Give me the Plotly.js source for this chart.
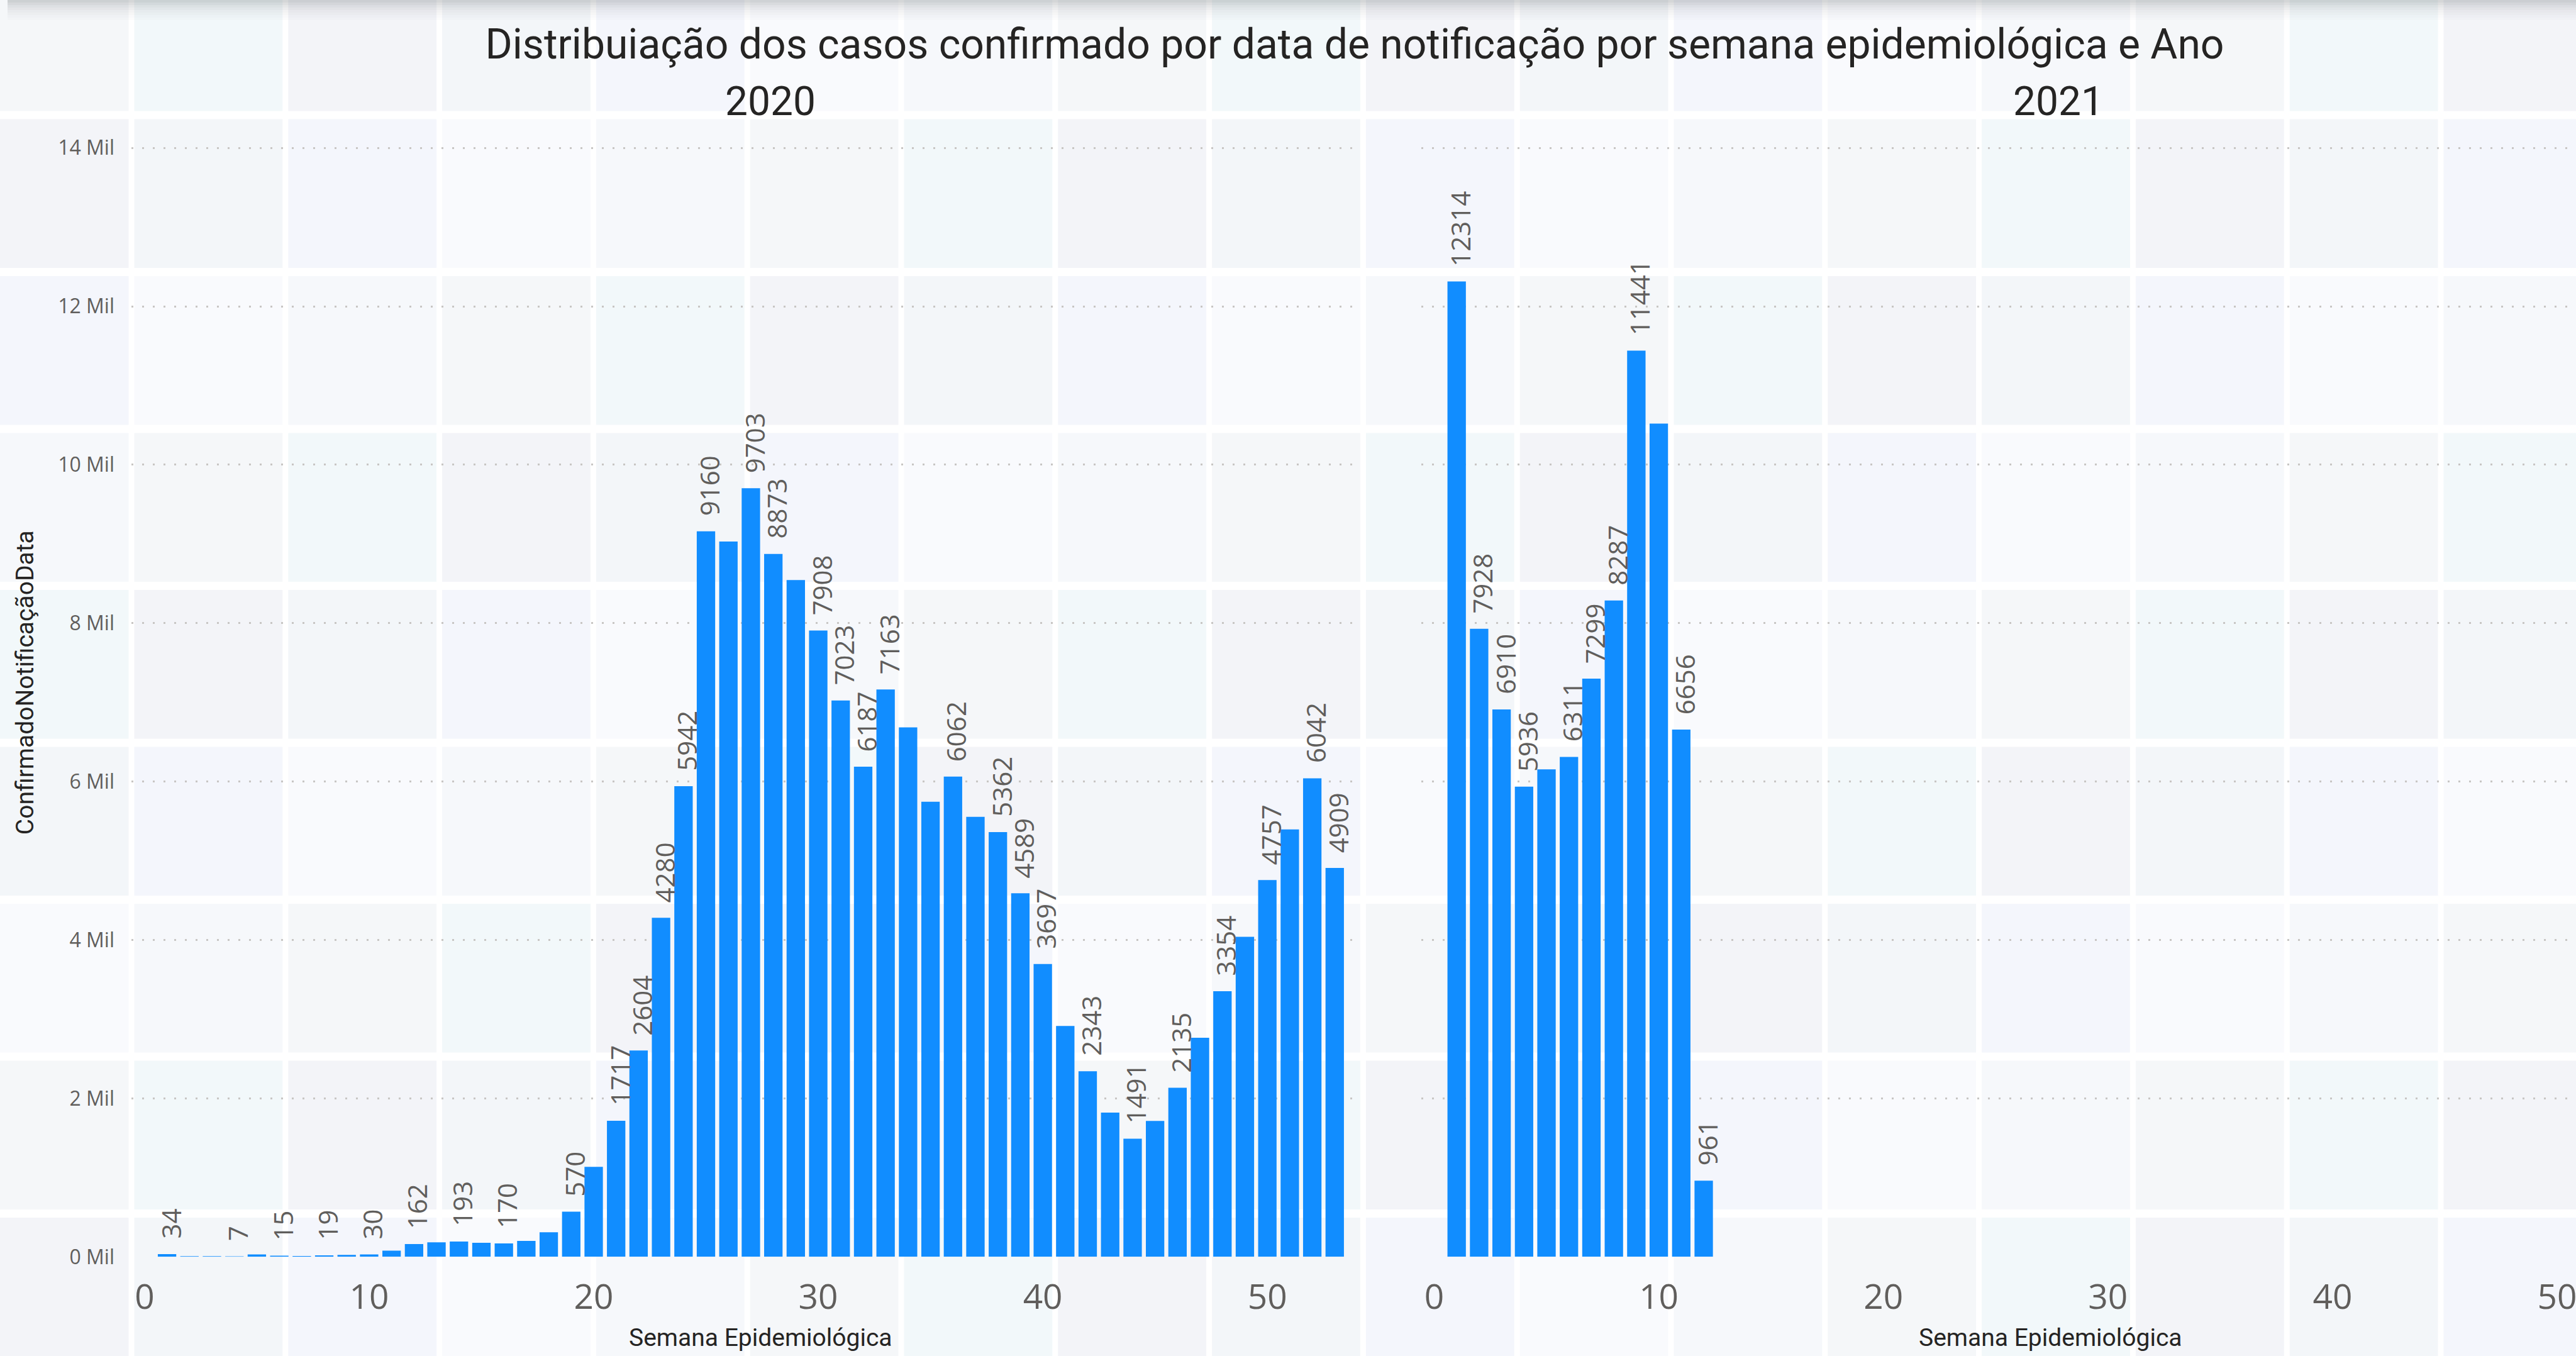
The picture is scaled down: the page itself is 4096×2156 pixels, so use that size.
<!DOCTYPE html>
<html>
<head>
<meta charset="utf-8">
<script src="https://cdn.plot.ly/plotly-3.0.1.min.js"></script>
<style>html,body{margin:0;padding:0;background:#fff;}#chart{width:4096px;height:2156px;}</style>
</head>
<body>
<div id="chart"></div>
<script>
// ---------- data ----------
const weeks2020 = [1,2,3,4,5,6,7,8,9,10,11,12,13,14,15,16,17,18,19,20,21,22,23,24,25,26,27,28,29,30,31,32,33,34,35,36,37,38,39,40,41,42,43,44,45,46,47,48,49,50,51,52,53];
const cases2020 = [34,8,9,7,30,15,10,19,24,30,78,162,183,193,178,170,200,311,570,1135,1717,2604,4280,5942,9160,9030,9703,8873,8545,7908,7023,6187,7163,6685,5745,6062,5555,5362,4589,3697,2915,2343,1820,1491,1715,2135,2765,3354,4040,4757,5395,6042,4909];
const labeledWeeks2020 = [1,4,6,8,10,12,14,16,19,21,22,23,24,25,27,28,30,31,32,33,36,38,39,40,42,44,46,48,50,52,53];

const weeks2021 = [1,2,3,4,5,6,7,8,9,10,11,12];
const cases2021 = [12314,7928,6910,5936,6155,6311,7299,8287,11441,10520,6656,961];
const labeledWeeks2021 = [1,2,3,4,6,7,8,9,11,12];

const yTickVals = [0,2000,4000,6000,8000,10000,12000,14000];
const yTickText = ['0 Mil','2 Mil','4 Mil','6 Mil','8 Mil','10 Mil','12 Mil','14 Mil'];
const xTickVals = [0,10,20,30,40,50];
const panelTitles = ['2020','2021'];

const chartTitle = 'Distribuiação dos casos confirmado por data de notificação por semana epidemiológica e Ano';
const xTitle = 'Semana Epidemiológica';
const yTitle = 'ConfirmadoNotificaçãoData';

// ---------- geometry helpers ----------
const W = 4096, H = 2156;
const px = v => v / W;
const py = v => 1 - v / H;

// ---------- background tiles ----------
const shapes = [];
const tilePalette = ['#F3F6F9','#F6F8FB','#F3F4F8','#F9FAFD','#F2F8FA','#F4F6FC','#F5F7F9'];
const colGap0 = 209, colPeriod = 244.8, colGapW = 9;
const rowGap0 = 183, rowPeriod = 249.5, rowGapW = 13;
for (let m = -1; m <= 8; m++) {
  const yTop = rowGap0 + m * rowPeriod + rowGapW / 2;
  const yBot = rowGap0 + (m + 1) * rowPeriod - rowGapW / 2;
  for (let k = -1; k <= 16; k++) {
    const xL = colGap0 + k * colPeriod + colGapW / 2;
    const xR = colGap0 + (k + 1) * colPeriod - colGapW / 2;
    const c = tilePalette[((k + 3) * 5 + (m + 2) * 3) % tilePalette.length];
    shapes.push({type:'rect', xref:'paper', yref:'paper', layer:'below',
      x0: px(Math.max(xL, 0)), x1: px(Math.min(xR, W)),
      y0: py(Math.min(yBot, H)), y1: py(Math.max(yTop, 0)),
      fillcolor: c, line:{width:0}});
  }
}
// top shadow strip
const shadowAlpha = [0.26,0.2,0.15,0.11,0.08,0.055,0.035,0.02];
shadowAlpha.forEach((a, i) => {
  shapes.push({type:'rect', xref:'paper', yref:'paper', layer:'below',
    x0: px(12), x1: 1, y0: py((i + 1) * 4), y1: py(i * 4),
    fillcolor: 'rgba(90,95,100,' + a + ')', line:{width:0}});
});

// ---------- data labels (annotations in data coordinates) ----------
const annotations = [];
function addLabels(weeks, cases, labeled, xr, yr) {
  labeled.forEach(w => {
    const i = weeks.indexOf(w);
    annotations.push({x: weeks[i], y: cases[i], xref: xr, yref: yr,
      text: String(cases[i]), textangle: -90, showarrow: false,
      xanchor: 'center', yanchor: 'bottom', yshift: 22, xshift: 5,
      font: {family: 'Open Sans, Noto Sans, sans-serif', size: 42, color: '#605E5C'}});
  });
}
addLabels(weeks2020, cases2020, labeledWeeks2020, 'x', 'y');
addLabels(weeks2021, cases2021, labeledWeeks2021, 'x2', 'y2');

const axTitleFont = {family: 'Roboto, sans-serif', size: 39, color: '#252423'};

// panel headings and x-axis titles
[[panelTitles[0], 1225, 1209], [panelTitles[1], 3273, 3260]].forEach(([t, xc, xt]) => {
  annotations.push({text: t, xref: 'paper', yref: 'paper', x: px(xc), y: py(161),
    xanchor: 'center', yanchor: 'middle', showarrow: false,
    font: {family: 'Roboto, sans-serif', size: 64, color: '#252423'}});
  annotations.push({text: xTitle, xref: 'paper', yref: 'paper', x: px(xt), y: py(2127),
    xanchor: 'center', yanchor: 'middle', showarrow: false, font: axTitleFont});
});

// ---------- traces ----------
const barColor = '#118DFF';
const traces = [
  {type: 'bar', x: weeks2020, y: cases2020, xaxis: 'x', yaxis: 'y',
   marker: {color: barColor}, name: panelTitles[0]},
  {type: 'bar', x: weeks2021, y: cases2021, xaxis: 'x2', yaxis: 'y2',
   marker: {color: barColor}, name: panelTitles[1]}
];

const tickFontX = {family: 'Open Sans, Noto Sans, sans-serif', size: 55, color: '#605E5C'};
const tickFontY = {family: 'Open Sans, Noto Sans, sans-serif', size: 32, color: '#605E5C'};
const yDomain = [1 - 1998.3 / H, 1 - 172.2 / H];
const yRange = [0, 14500];

const commonX = {tickvals: xTickVals, ticks: '', showgrid: false, zeroline: false, showline: false,
  tickfont: tickFontX, ticklabelstandoff: 27, ticklabeloverflow: 'allow', automargin: false};
const commonY = {range: yRange, tickvals: yTickVals, ticktext: yTickText, showgrid: true,
  gridcolor: '#C8C6C4', gridwidth: 3, griddash: '3px,14px', zeroline: false, showline: false,
  ticks: '', automargin: false, domain: yDomain};

const layout = {
  width: W, height: H,
  margin: {l: 0, r: 0, t: 0, b: 0, pad: 0},
  paper_bgcolor: '#FFFFFF', plot_bgcolor: 'rgba(0,0,0,0)',
  showlegend: false, bargap: 0.18,
  title: {text: chartTitle, xref: 'paper', x: px(2154), xanchor: 'center',
    yref: 'container', y: py(70), yanchor: 'middle',
    font: {family: 'Roboto, sans-serif', size: 66, color: '#252423'}},
  xaxis: Object.assign({}, commonX, {domain: [px(209), px(2158)], range: [-0.585, 54], anchor: 'y'}),
  xaxis2: Object.assign({}, commonX, {domain: [px(2259.6), 1], range: [-0.585, 50.84], anchor: 'y2'}),
  yaxis: Object.assign({}, commonY, {anchor: 'x', tickfont: tickFontY, ticklabelstandoff: 26,
    title: {text: yTitle, font: {family: 'Roboto, sans-serif', size: 39, color: '#252423'}, standoff: 26}}),
  yaxis2: Object.assign({}, commonY, {anchor: 'x2', matches: 'y', showticklabels: false}),
  shapes: shapes,
  annotations: annotations
};

Plotly.newPlot('chart', traces, layout, {staticPlot: true, displayModeBar: false});
</script>
</body>
</html>
